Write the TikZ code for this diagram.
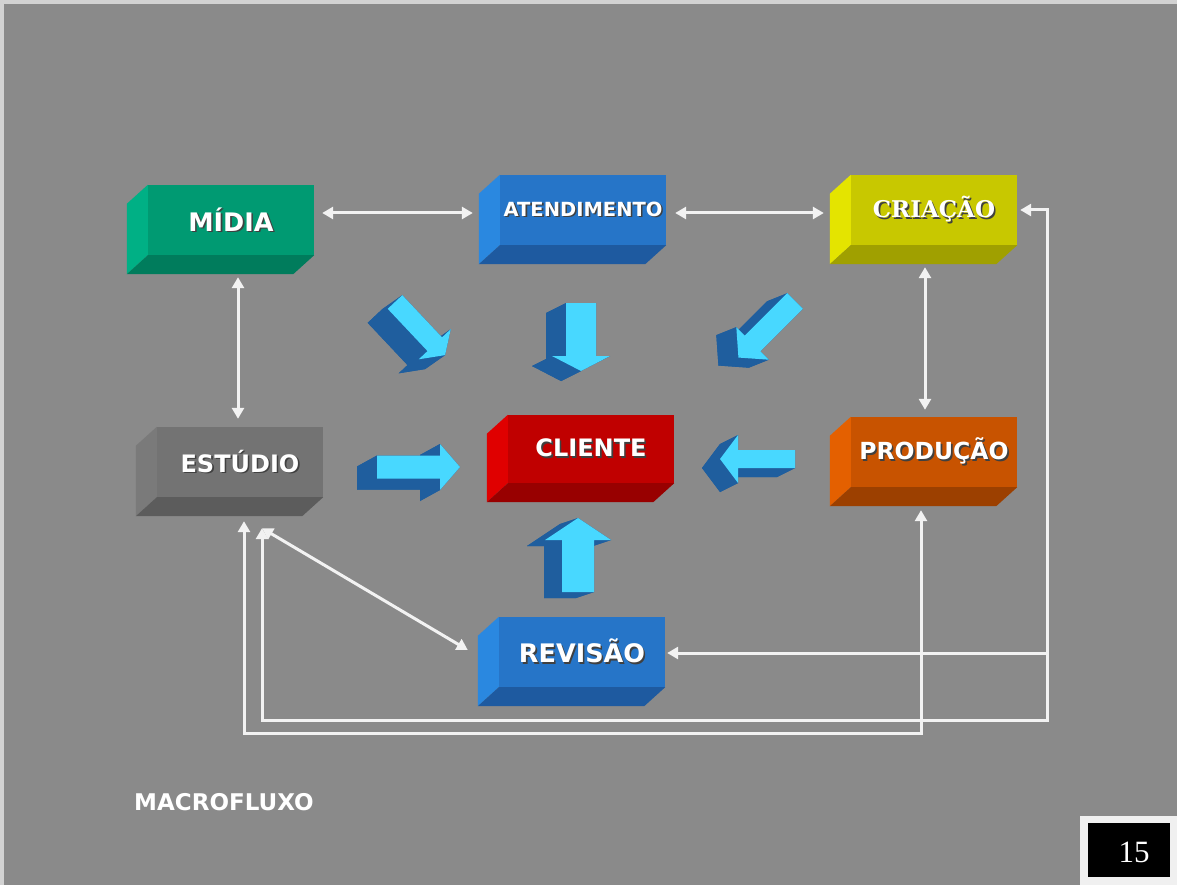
\documentclass[tikz,border=0pt]{standalone}
\usepackage{fontspec}
\setmainfont{DejaVu Sans}
\newfontfamily\serifbold{DejaVu Serif}
\newfontfamily\numberfont{Liberation Serif}
\usetikzlibrary{calc,arrows.meta}

% palette
\definecolor{slidebg}{HTML}{8A8A8A}
\definecolor{edgelight}{HTML}{D2D2D2}
\definecolor{linkwhite}{HTML}{F2F2F2}
\definecolor{arrowlight}{HTML}{48D8FF}
\definecolor{arrowdark}{HTML}{1F5E9E}
\definecolor{midiaF}{HTML}{009A72}\definecolor{midiaL}{HTML}{00B085}\definecolor{midiaB}{HTML}{007C5C}
\definecolor{blueF}{HTML}{2675C8}\definecolor{blueL}{HTML}{2A88E0}\definecolor{blueB}{HTML}{1E5AA0}
\definecolor{criaF}{HTML}{C8C800}\definecolor{criaL}{HTML}{E4E400}\definecolor{criaB}{HTML}{A0A000}
\definecolor{estF}{HTML}{737373}\definecolor{estL}{HTML}{7A7A7A}\definecolor{estB}{HTML}{5C5C5C}
\definecolor{cliF}{HTML}{C00000}\definecolor{cliL}{HTML}{E00000}\definecolor{cliB}{HTML}{980000}
\definecolor{prodF}{HTML}{C85300}\definecolor{prodL}{HTML}{E46000}\definecolor{prodB}{HTML}{9C4000}

% white label with a dark drop shadow
\newcommand{\shadowed}[1]{\leavevmode\rlap{\kern1.6pt\raisebox{-1.6pt}{\textcolor{black!75}{#1}}}#1}
\newcommand{\labelsize}[1]{\bfseries\fontsize{#1}{#1}\selectfont}

% left and bottom faces of an extruded box: node, left colour, bottom colour
\newcommand{\boxsides}[3]{%
  \fill[#2] (#1.north west) -- ++(-21,19) -- ($(#1.south west)+(-21,19)$) -- (#1.south west) -- cycle;
  \fill[#3] (#1.south west) -- (#1.south east) -- ++(-21,19) -- ($(#1.south west)+(-21,19)$) -- cycle;
}

% extruded block arrow: name, start, angle, length, shaft width, head width, head length, extrusion
\newcommand{\blockarrow}[8]{%
  \begin{scope}[shift={(#2)},rotate=#3]
    \coordinate (#1-1) at (0,{-#5/2});
    \coordinate (#1-2) at ({#4-#7},{-#5/2});
    \coordinate (#1-3) at ({#4-#7},{-#6/2});
    \coordinate (#1-4) at (#4,0);
    \coordinate (#1-5) at ({#4-#7},{#6/2});
    \coordinate (#1-6) at ({#4-#7},{#5/2});
    \coordinate (#1-7) at (0,{#5/2});
  \end{scope}
  \fill[arrowdark] ($(#1-1)+(#8)$) -- ($(#1-2)+(#8)$) -- ($(#1-3)+(#8)$) -- ($(#1-4)+(#8)$)
     -- ($(#1-5)+(#8)$) -- ($(#1-6)+(#8)$) -- ($(#1-7)+(#8)$) -- cycle;
  \foreach \i/\j in {1/2,2/3,3/4,4/5,5/6,6/7,7/1}
    \fill[arrowdark] (#1-\i) -- (#1-\j) -- ($(#1-\j)+(#8)$) -- ($(#1-\i)+(#8)$) -- cycle;
  \fill[arrowlight] (#1-1) -- (#1-2) -- (#1-3) -- (#1-4) -- (#1-5) -- (#1-6) -- (#1-7) -- cycle;
}

\tikzset{
  face/.style={rectangle, inner sep=0pt, minimum width=166pt, minimum height=70pt,
    text=white, font=\labelsize{24}},
  link/.style={draw=linkwhite, line width=3pt},
}

\begin{document}
\begin{tikzpicture}[x=1pt, y=-1pt, >={Triangle[length=11pt,width=12pt]}]
  % slide background
  \fill[slidebg] (0,0) rectangle (1177,885);
  \useasboundingbox (0,0) rectangle (1177,885);
  \fill[edgelight] (0,0) rectangle (1177,4);
  \fill[edgelight] (0,0) rectangle (4,885);

  % boxes
  \node[face, fill=midiaF, font=\labelsize{25.5}] (midia) at (231,220) {\shadowed{MÍDIA}};
  \boxsides{midia}{midiaL}{midiaB}
  \node[face, fill=blueF, font=\labelsize{19.5}] (atend) at (583,210) {\shadowed{ATENDIMENTO}};
  \boxsides{atend}{blueL}{blueB}
  \node[face, fill=criaF, font=\serifbold\labelsize{23}] (criacao) at (934,210) {\shadowed{CRIAÇÃO}};
  \boxsides{criacao}{criaL}{criaB}
  \node[face, fill=estF] (estudio) at (240,462) {\shadowed{ESTÚDIO}};
  \boxsides{estudio}{estL}{estB}
  \node[face, fill=cliF, minimum height=68pt] (cliente) at (591,449) {\shadowed{CLIENTE}};
  \boxsides{cliente}{cliL}{cliB}
  \node[face, fill=prodF, font=\labelsize{23.5}] (producao) at (934,452) {\shadowed{PRODUÇÃO}};
  \boxsides{producao}{prodL}{prodB}
  \node[face, fill=blueF, font=\labelsize{25.5}] (revisao) at (582,652) {\shadowed{REVISÃO}};
  \boxsides{revisao}{blueL}{blueB}

  % block arrows towards the client
  \blockarrow{amid}{395,302}{-46.7}{73}{20}{44}{15}{-20,14}
  \blockarrow{aate}{581,303}{-90}{68}{30}{58}{15}{-20,10}
  \blockarrow{acri}{795,301}{-135}{80}{22}{46}{20}{-20,8}
  \blockarrow{aest}{377,467}{0}{83}{23}{46}{20}{-20,11}
  \blockarrow{apro}{795,459}{180}{75}{18}{48}{18}{-18,9}
  \blockarrow{arev}{578,592}{90}{74}{32}{66}{22}{-18,6}

  % bend points of the return lines
  \coordinate (rtop) at (1047,210);
  \coordinate (rmid) at (1047,653);
  \coordinate (rbot) at (1047,720);
  \coordinate (pbot) at (921,733);

  % white connectors
  \draw[link,<->] ([xshift=8pt,yshift=7pt]midia.east) -- ([xshift=-27pt,yshift=-3pt]atend.west);
  \draw[link,<->] ([xshift=9pt,yshift=-3pt]atend.east) -- ([xshift=-27pt,yshift=-3pt]criacao.west);
  \draw[link,<->] ([xshift=7pt,yshift=-22pt]midia.south) -- ([xshift=-2pt,yshift=8pt]estudio.north);
  \draw[link,<->] ([xshift=-9pt,yshift=-22pt]criacao.south) -- ([xshift=-9pt,yshift=7pt]producao.north);
  \draw[link,<->] ([xshift=22pt,yshift=-31pt]estudio.south) -- ([xshift=-31pt,yshift=2pt]revisao.west);
  \draw[link,<->] ([xshift=22pt,yshift=-31pt]estudio.south) |- (rbot) -- (rtop) -- ([xshift=3pt]criacao.east);
  \draw[link,->] (rmid) -- ([xshift=2pt,yshift=-1pt]revisao.east);
  \draw[link,<->] ([xshift=-13pt,yshift=-23pt]producao.south) -- (pbot) -| ([xshift=4pt,yshift=-24pt]estudio.south);

  % caption
  \node[text=white, font=\labelsize{23}] (title) at (224,802) {MACROFLUXO};

  % page number
  \node[fill=white!94!black, inner sep=0pt, minimum width=97pt, minimum height=69pt] (pgframe) at (1128.5,850.5) {};
  \fill[black] (1088,823) rectangle (1170,877);
  \node[text=white, font=\numberfont\fontsize{31}{31}\selectfont] (pgnum) at (1134,852) {15};
\end{tikzpicture}
\end{document}
